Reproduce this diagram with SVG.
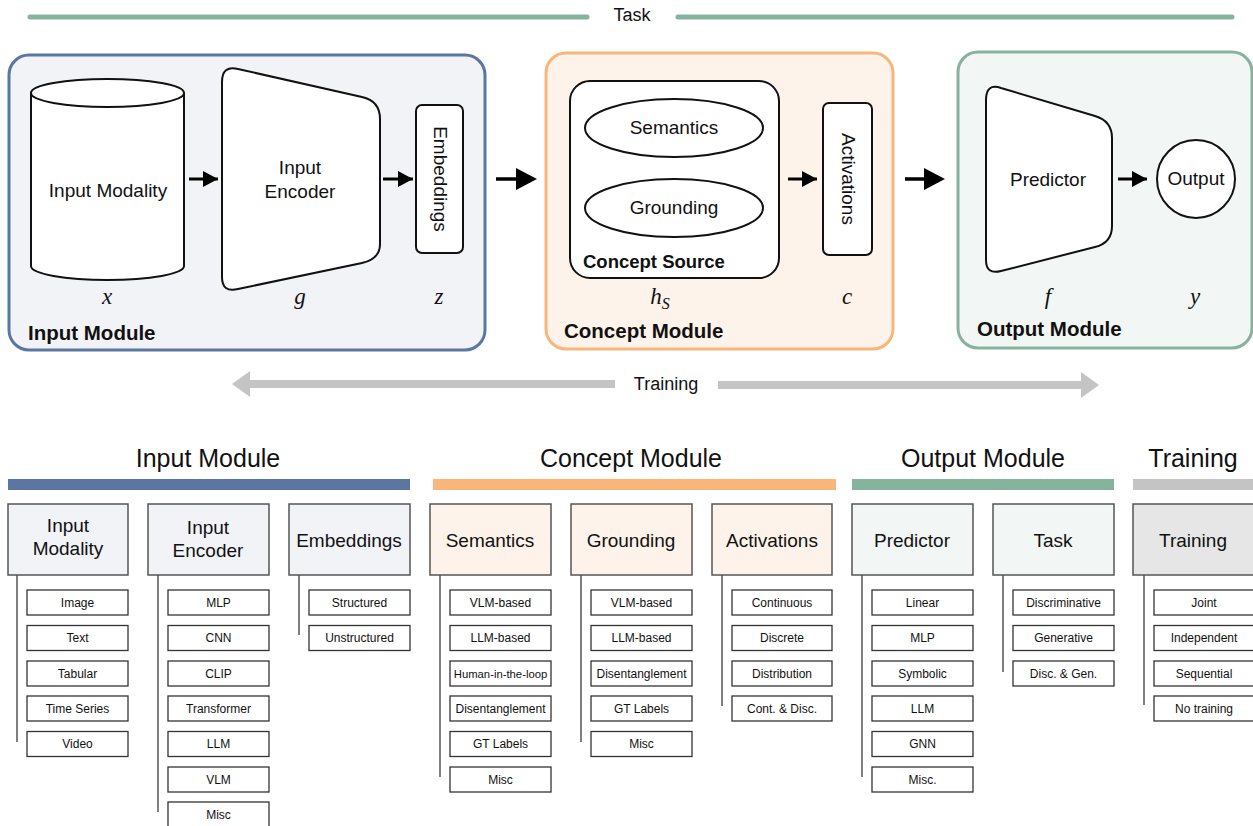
<svg xmlns="http://www.w3.org/2000/svg" width="1253" height="826" viewBox="0 0 1253 826">
<style>
text{font-family:"Liberation Sans",Arial,sans-serif;fill:#111}
.node{fill:#fff;stroke:#111;stroke-width:2}
.math{font-family:"Liberation Serif","Times New Roman",serif;font-style:italic;font-size:23px}
.lbl{font-size:19px}
.bold{font-weight:bold;font-size:20.5px}
.sec{font-size:25px}
.cat{stroke:#555;stroke-width:1.5}
.item rect{fill:#fff;stroke:#333;stroke-width:1.3}
.item text{font-size:12px;text-anchor:middle}
.vline{stroke:#555;stroke-width:1.5}
.ctext{font-size:19px;text-anchor:middle}
</style>
<defs>
<marker id="ah" markerWidth="15" markerHeight="16" refX="15" refY="8" orient="auto" markerUnits="userSpaceOnUse"><path d="M0,0 L15,8 L0,16 Z" fill="#000"/></marker>
</defs>
<rect width="1253" height="826" fill="#fff"/>

<!-- Task line -->
<g id="task-line">
<line x1="30" y1="17" x2="587" y2="17" stroke="#86b39d" stroke-width="5" stroke-linecap="round"/>
<line x1="678" y1="17" x2="1232" y2="17" stroke="#86b39d" stroke-width="5" stroke-linecap="round"/>
<text x="632" y="21" font-size="18" text-anchor="middle">Task</text>
</g>

<!-- Input Module -->
<g id="input-module">
<rect x="9" y="55" width="476" height="295" rx="20" fill="#f2f3f7" stroke="#5b76a2" stroke-width="3"/>
<text x="28" y="340" class="bold">Input Module</text>
</g>
<g id="input-modality">
<path class="node" d="M31,93 L31,266 A76.5,14 0 0 0 184,266 L184,93"/>
<ellipse class="node" cx="107.5" cy="93" rx="76.5" ry="14"/>
<text x="108" y="197" class="lbl" text-anchor="middle">Input Modality</text>
<text x="107" y="304" class="math" text-anchor="middle">x</text>
</g>
<g id="input-encoder">
<path class="node" d="M222,82 Q222,65 238,69 L362,97 Q380,101 380,119 L380,244 Q380,259 362,263 L238,289 Q222,293 222,277 Z"/>
<text x="300" y="174" class="lbl" text-anchor="middle">Input</text>
<text x="300" y="198" class="lbl" text-anchor="middle">Encoder</text>
<text x="300" y="304" class="math" text-anchor="middle">g</text>
</g>
<g id="embeddings">
<rect class="node" x="416" y="105" width="47" height="148" rx="6"/>
<text transform="translate(433.5,179) rotate(90)" class="lbl" text-anchor="middle">Embeddings</text>
<text x="439" y="304" class="math" text-anchor="middle">z</text>
</g>

<!-- Concept Module -->
<g id="concept-module">
<rect x="546" y="53" width="347" height="296" rx="20" fill="#fdf3ea" stroke="#f9b67a" stroke-width="3"/>
<text x="564" y="338" class="bold">Concept Module</text>
</g>
<g id="concept-source">
<rect class="node" x="570" y="81" width="209" height="197" rx="20"/>
<ellipse class="node" cx="674" cy="128" rx="89" ry="29"/>
<text x="674" y="134" class="lbl" text-anchor="middle">Semantics</text>
<ellipse class="node" cx="674" cy="208" rx="89" ry="29"/>
<text x="674" y="214" class="lbl" text-anchor="middle">Grounding</text>
<text x="583" y="268" font-size="18.5" font-weight="bold">Concept Source</text>
<text x="660" y="304" class="math" text-anchor="middle">h<tspan font-size="16" dy="5">S</tspan></text>
</g>
<g id="activations">
<rect class="node" x="823" y="103" width="49" height="152" rx="6"/>
<text transform="translate(841.5,179) rotate(90)" class="lbl" text-anchor="middle">Activations</text>
<text x="847" y="304" class="math" text-anchor="middle">c</text>
</g>

<!-- Output Module -->
<g id="output-module">
<rect x="958" y="52" width="294" height="296" rx="20" fill="#f2f6f4" stroke="#86b39d" stroke-width="3"/>
<text x="977" y="336" class="bold">Output Module</text>
</g>
<g id="predictor">
<path class="node" d="M986,100 Q986,83 1001,88 L1095,116 Q1112,121 1112,138 L1112,226 Q1112,243 1095,247 L1001,271 Q986,275 986,260 Z"/>
<text x="1048" y="186" class="lbl" text-anchor="middle">Predictor</text>
<text x="1048" y="304" class="math" text-anchor="middle">f</text>
</g>
<g id="output">
<circle class="node" cx="1196" cy="179" r="39"/>
<text x="1196" y="185" class="lbl" text-anchor="middle">Output</text>
<text x="1195" y="304" class="math" text-anchor="middle">y</text>
</g>

<!-- Connectors -->
<g id="connectors">
<line x1="189" y1="179" x2="218" y2="179" stroke="#000" stroke-width="3" marker-end="url(#ah)"/>
<line x1="383" y1="179" x2="413" y2="179" stroke="#000" stroke-width="3" marker-end="url(#ah)"/>
<line x1="788" y1="179" x2="817" y2="179" stroke="#000" stroke-width="3" marker-end="url(#ah)"/>
<line x1="1118" y1="179" x2="1147" y2="179" stroke="#000" stroke-width="3" marker-end="url(#ah)"/>
<path d="M496,179 L518,179" stroke="#000" stroke-width="3.5"/>
<path d="M516,168 L537,179 L516,190 Z" fill="#000"/>
<path d="M905,179 L926,179" stroke="#000" stroke-width="3.5"/>
<path d="M924,168 L945,179 L924,190 Z" fill="#000"/>
<!-- Training arrow -->
<rect x="246" y="380" width="369" height="8" fill="#c4c4c4"/>
<path d="M232,384 L250,371 L250,397 Z" fill="#c4c4c4"/>
<rect x="718" y="381" width="366" height="8" fill="#c4c4c4"/>
<path d="M1099,385 L1081,372 L1081,398 Z" fill="#c4c4c4"/>
<text x="666" y="390" font-size="18" text-anchor="middle">Training</text>
</g>

<!-- Bottom taxonomy -->
<g id="section-headers">
<text x="208" y="467" class="sec" text-anchor="middle">Input Module</text>
<rect x="8" y="479" width="402" height="11" fill="#5b76a2"/>
<text x="631" y="467" class="sec" text-anchor="middle">Concept Module</text>
<rect x="433" y="479" width="403" height="11" fill="#f9b67a"/>
<text x="983" y="467" class="sec" text-anchor="middle">Output Module</text>
<rect x="852" y="479" width="262" height="11" fill="#86b39d"/>
<text x="1193" y="467" class="sec" text-anchor="middle">Training</text>
<rect x="1133" y="479" width="125" height="11" fill="#c4c4c4"/>
</g>

<g id="cat-input-modality">
<rect class="cat" x="8" y="504" width="120" height="71" fill="#f2f3f7"/>
<text x="68" y="532" class="ctext">Input</text>
<text x="68" y="555" class="ctext">Modality</text>
<line class="vline" x1="17" y1="575" x2="17" y2="742"/>
<g class="item"><rect x="27" y="590" width="101" height="25"/><text x="77.5" y="606.5">Image</text></g>
<g class="item"><rect x="27" y="625.5" width="101" height="25"/><text x="77.5" y="642">Text</text></g>
<g class="item"><rect x="27" y="661" width="101" height="25"/><text x="77.5" y="677.5">Tabular</text></g>
<g class="item"><rect x="27" y="696" width="101" height="25"/><text x="77.5" y="712.5">Time Series</text></g>
<g class="item"><rect x="27" y="731.5" width="101" height="25"/><text x="77.5" y="748">Video</text></g>
</g>

<g id="cat-input-encoder">
<rect class="cat" x="148" y="504" width="121" height="71" fill="#f2f3f7"/>
<text x="208" y="534" class="ctext">Input</text>
<text x="208" y="557" class="ctext">Encoder</text>
<line class="vline" x1="158" y1="575" x2="158" y2="812"/>
<g class="item"><rect x="168" y="590" width="101" height="25"/><text x="218.5" y="606.5">MLP</text></g>
<g class="item"><rect x="168" y="625.5" width="101" height="25"/><text x="218.5" y="642">CNN</text></g>
<g class="item"><rect x="168" y="661" width="101" height="25"/><text x="218.5" y="677.5">CLIP</text></g>
<g class="item"><rect x="168" y="696" width="101" height="25"/><text x="218.5" y="712.5">Transformer</text></g>
<g class="item"><rect x="168" y="731.5" width="101" height="25"/><text x="218.5" y="748">LLM</text></g>
<g class="item"><rect x="168" y="767" width="101" height="25"/><text x="218.5" y="783.5">VLM</text></g>
<g class="item"><rect x="168" y="802" width="101" height="25"/><text x="218.5" y="818.5">Misc</text></g>
</g>

<g id="cat-embeddings">
<rect class="cat" x="289" y="504" width="121" height="71" fill="#f2f3f7"/>
<text x="349" y="547" class="ctext">Embeddings</text>
<line class="vline" x1="299" y1="575" x2="299" y2="635"/>
<g class="item"><rect x="309" y="590" width="101" height="25"/><text x="359.5" y="606.5">Structured</text></g>
<g class="item"><rect x="309" y="625.5" width="101" height="25"/><text x="359.5" y="642">Unstructured</text></g>
</g>

<g id="cat-semantics">
<rect class="cat" x="430" y="504" width="121" height="71" fill="#fdf3ea"/>
<text x="490" y="547" class="ctext">Semantics</text>
<line class="vline" x1="440" y1="575" x2="440" y2="777"/>
<g class="item"><rect x="450" y="590" width="101" height="25"/><text x="500.5" y="606.5">VLM-based</text></g>
<g class="item"><rect x="450" y="625.5" width="101" height="25"/><text x="500.5" y="642">LLM-based</text></g>
<g class="item"><rect x="450" y="661" width="101" height="25"/><text x="500.5" y="677.5" style="font-size:11.3px">Human-in-the-loop</text></g>
<g class="item"><rect x="450" y="696" width="101" height="25"/><text x="500.5" y="712.5">Disentanglement</text></g>
<g class="item"><rect x="450" y="731.5" width="101" height="25"/><text x="500.5" y="748">GT Labels</text></g>
<g class="item"><rect x="450" y="767" width="101" height="25"/><text x="500.5" y="783.5">Misc</text></g>
</g>

<g id="cat-grounding">
<rect class="cat" x="571" y="504" width="121" height="71" fill="#fdf3ea"/>
<text x="631" y="547" class="ctext">Grounding</text>
<line class="vline" x1="581" y1="575" x2="581" y2="742"/>
<g class="item"><rect x="591" y="590" width="101" height="25"/><text x="641.5" y="606.5">VLM-based</text></g>
<g class="item"><rect x="591" y="625.5" width="101" height="25"/><text x="641.5" y="642">LLM-based</text></g>
<g class="item"><rect x="591" y="661" width="101" height="25"/><text x="641.5" y="677.5">Disentanglement</text></g>
<g class="item"><rect x="591" y="696" width="101" height="25"/><text x="641.5" y="712.5">GT Labels</text></g>
<g class="item"><rect x="591" y="731.5" width="101" height="25"/><text x="641.5" y="748">Misc</text></g>
</g>

<g id="cat-activations">
<rect class="cat" x="712" y="504" width="120" height="71" fill="#fdf3ea"/>
<text x="772" y="547" class="ctext">Activations</text>
<line class="vline" x1="722" y1="575" x2="722" y2="706"/>
<g class="item"><rect x="732" y="590" width="100" height="25"/><text x="782" y="606.5">Continuous</text></g>
<g class="item"><rect x="732" y="625.5" width="100" height="25"/><text x="782" y="642">Discrete</text></g>
<g class="item"><rect x="732" y="661" width="100" height="25"/><text x="782" y="677.5">Distribution</text></g>
<g class="item"><rect x="732" y="696" width="100" height="25"/><text x="782" y="712.5">Cont. &amp; Disc.</text></g>
</g>

<g id="cat-predictor">
<rect class="cat" x="852" y="504" width="121" height="71" fill="#f2f6f4"/>
<text x="912" y="547" class="ctext">Predictor</text>
<line class="vline" x1="862" y1="575" x2="862" y2="777"/>
<g class="item"><rect x="872" y="590" width="101" height="25"/><text x="922.5" y="606.5">Linear</text></g>
<g class="item"><rect x="872" y="625.5" width="101" height="25"/><text x="922.5" y="642">MLP</text></g>
<g class="item"><rect x="872" y="661" width="101" height="25"/><text x="922.5" y="677.5">Symbolic</text></g>
<g class="item"><rect x="872" y="696" width="101" height="25"/><text x="922.5" y="712.5">LLM</text></g>
<g class="item"><rect x="872" y="731.5" width="101" height="25"/><text x="922.5" y="748">GNN</text></g>
<g class="item"><rect x="872" y="767" width="101" height="25"/><text x="922.5" y="783.5">Misc.</text></g>
</g>

<g id="cat-task">
<rect class="cat" x="993" y="504" width="121" height="71" fill="#f2f6f4"/>
<text x="1053" y="547" class="ctext">Task</text>
<line class="vline" x1="1003" y1="575" x2="1003" y2="672"/>
<g class="item"><rect x="1013" y="590" width="101" height="25"/><text x="1063.5" y="606.5">Discriminative</text></g>
<g class="item"><rect x="1013" y="625.5" width="101" height="25"/><text x="1063.5" y="642">Generative</text></g>
<g class="item"><rect x="1013" y="661" width="101" height="25"/><text x="1063.5" y="677.5">Disc. &amp; Gen.</text></g>
</g>

<g id="cat-training">
<rect class="cat" x="1133" y="504" width="121" height="71" fill="#e6e6e6"/>
<text x="1193" y="547" class="ctext">Training</text>
<line class="vline" x1="1144" y1="575" x2="1144" y2="705"/>
<g class="item"><rect x="1154" y="590" width="101" height="25"/><text x="1204" y="606.5">Joint</text></g>
<g class="item"><rect x="1154" y="625.5" width="101" height="25"/><text x="1204" y="642">Independent</text></g>
<g class="item"><rect x="1154" y="661" width="101" height="25"/><text x="1204" y="677.5">Sequential</text></g>
<g class="item"><rect x="1154" y="696" width="101" height="25"/><text x="1204" y="712.5">No training</text></g>
</g>
</svg>
